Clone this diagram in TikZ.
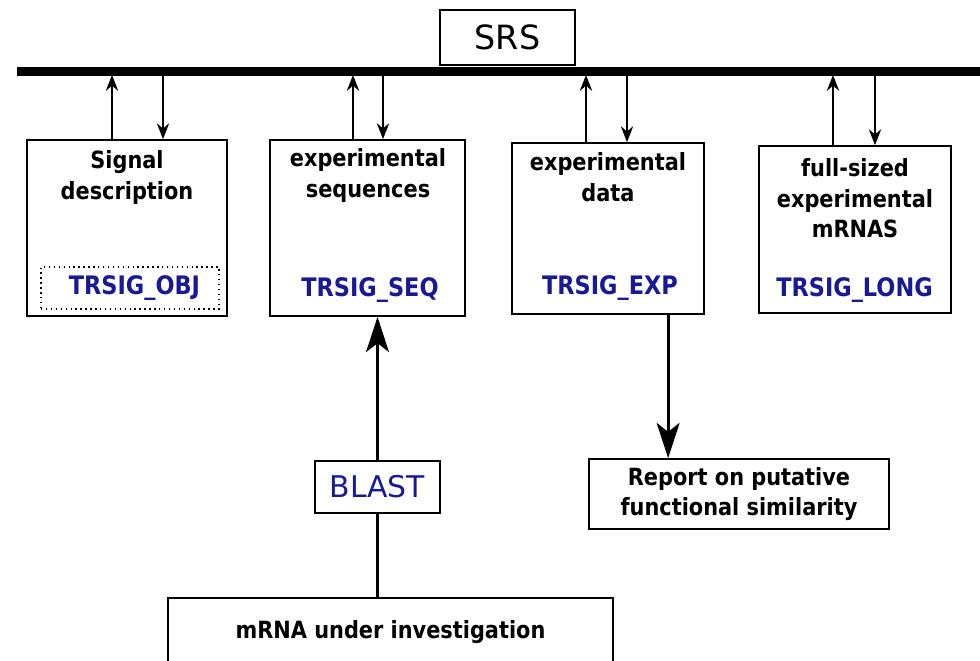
\documentclass[tikz,border=0pt]{standalone}
\usepackage{fontspec}
\setsansfont{DejaVu Sans}
\newfontfamily\narrowsans{DejaVu Sans}[FakeStretch=0.88]
\usetikzlibrary{arrows.meta, positioning}
\definecolor{SigBlue}{RGB}{25,25,150}

\begin{document}
\begin{tikzpicture}[x=0.02cm, y=-0.02cm,
    store/.style={draw, line width=1pt, inner sep=0pt},
    ttl/.style={font=\narrowsans\bfseries\fontsize{13.5}{17.5}\selectfont,
                align=center, anchor=north, inner sep=0pt},
    tbl/.style={font=\narrowsans\bfseries\fontsize{14.5}{15}\selectfont,
                text=SigBlue, anchor=base, inner sep=0pt},
    plain/.style={draw, line width=1pt, inner sep=0pt, align=center,
                  font=\narrowsans\bfseries\fontsize{13.5}{17.5}\selectfont},
    thin/.style={-{Stealth[length=9pt,width=7pt]}, line width=1pt},
    fat/.style={-{Stealth[length=20pt,width=13pt,inset=5pt]}, line width=1.8pt}
  ]
  \useasboundingbox (0,0) rectangle (980,661);
  \clip (0,0) rectangle (980,661);

  % SRS and its bus
  \node[plain, font=\sffamily\fontsize{19}{20}\selectfont,
        minimum width=2.7cm, minimum height=1.1cm] (srs) at (507.5,37.5) {SRS};
  \coordinate (busL) at (17,71.5);
  \coordinate (busR) at (980,71.5);
  \draw[line width=0.18cm] (busL) -- (busR);

  % Databanks
  \node[store, minimum width=4.0cm, minimum height=3.52cm] (sig) at (127,228) {};
  \node[store, minimum width=3.9cm, minimum height=3.52cm] (seq) at (367.5,228) {};
  \node[store, minimum width=3.84cm, minimum height=3.42cm] (exp) at (608,228.5) {};
  \node[store, minimum width=3.84cm, minimum height=3.34cm] (long) at (855,229.5) {};

  \node[ttl] (sigttl) at (127,150) {Signal\\description};
  \node[ttl] (seqttl) at (368,148) {experimental\\sequences};
  \node[ttl] (expttl) at (608,152) {experimental\\data};
  \node[ttl] (longttl) at (855,158) {full-sized\\experimental\\mRNAS};

  \node[draw, dotted, line width=0.8pt, minimum width=3.56cm,
        minimum height=0.84cm] (objfr) at (130,288) {};
  \node[tbl] (siglbl) at (134.5,295) {TRSIG\_OBJ};
  \node[tbl] (seqlbl) at (370,297) {TRSIG\_SEQ};
  \node[tbl] (explbl) at (610,295) {TRSIG\_EXP};
  \node[tbl] (longlbl) at (854.5,297) {TRSIG\_LONG};

  % To and from the bus
  \foreach \n/\u/\d in {sig/112/163, seq/353/383, exp/586/627, long/833/875}{
    \coordinate (up\n) at (\u,75);
    \coordinate (dn\n) at (\d,75);
    \draw[thin] (\n.north -| up\n) -- (up\n);
    \draw[thin] (dn\n) -- (\n.north -| dn\n);
  }

  % Search and report
  \node[plain, font=\sffamily\fontsize{17}{20}\selectfont, text=SigBlue,
        minimum width=2.5cm, minimum height=1.04cm] (blast) at (377.5,487) {BLAST};
  \node[plain, minimum width=6.0cm, minimum height=1.4cm] (rpt) at (739,494)
       {Report on putative\\functional similarity};
  \node[plain, anchor=north, minimum width=8.9cm, inner ysep=0.45cm,
        text depth=2cm] (mrna) at (390.5,597) {mRNA under investigation};

  \coordinate (rptin) at ([xshift=1.6cm]rpt.north west);
  \draw[line width=1.8pt] (mrna.north -| blast) -- (blast.south);
  \draw[fat] (blast.north) -- (blast.north |- seq.south);
  \draw[fat] (exp.south -| rptin) -- (rptin);
\end{tikzpicture}
\end{document}
